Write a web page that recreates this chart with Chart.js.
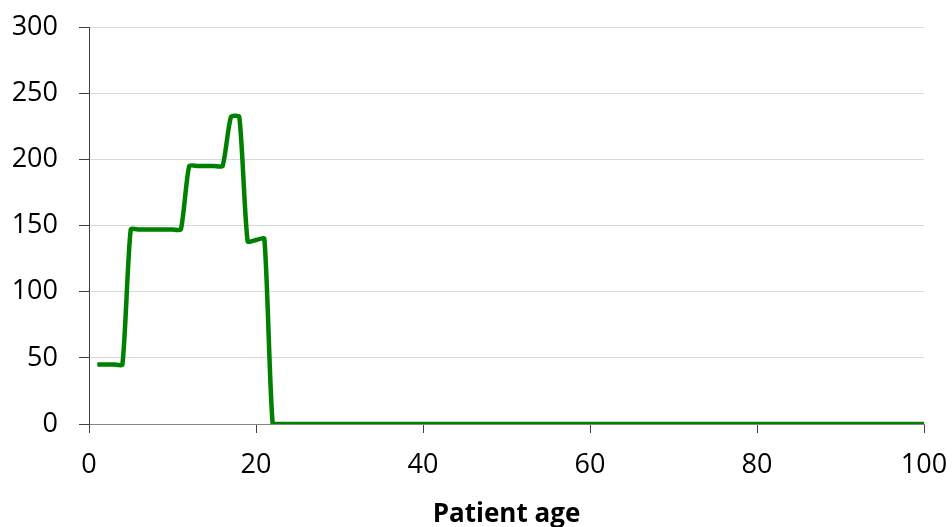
<!DOCTYPE html>
<html>
<head>
<meta charset="utf-8">
<script src="https://cdn.jsdelivr.net/npm/chart.js@4/dist/chart.umd.min.js"></script>
<style>
  html, body { margin: 0; padding: 0; background: #fff; }
  #chart { display: block; }
</style>
</head>
<body>
<canvas id="chart" width="952" height="527"></canvas>
<script>
// patient ages (x) and counts
const ages = [
  1, 2, 3, 4, 5, 6, 7, 8, 9, 10,
  11, 12, 13, 14, 15, 16, 17, 18, 19, 20,
  21, 22, 23, 24, 25, 26, 27, 28, 29, 30,
  31, 32, 33, 34, 35, 36, 37, 38, 39, 40,
  41, 42, 43, 44, 45, 46, 47, 48, 49, 50,
  51, 52, 53, 54, 55, 56, 57, 58, 59, 60,
  61, 62, 63, 64, 65, 66, 67, 68, 69, 70,
  71, 72, 73, 74, 75, 76, 77, 78, 79, 80,
  81, 82, 83, 84, 85, 86, 87, 88, 89, 90,
  91, 92, 93, 94, 95, 96, 97, 98, 99, 100
];
const counts = [
  45, 45, 45, 45, 147, 147, 147, 147, 147, 147,
  147, 195, 195, 195, 195, 195, 232, 232, 138, 139,
  140, 0, 0, 0, 0, 0, 0, 0, 0, 0,
  0, 0, 0, 0, 0, 0, 0, 0, 0, 0,
  0, 0, 0, 0, 0, 0, 0, 0, 0, 0,
  0, 0, 0, 0, 0, 0, 0, 0, 0, 0,
  0, 0, 0, 0, 0, 0, 0, 0, 0, 0,
  0, 0, 0, 0, 0, 0, 0, 0, 0, 0,
  0, 0, 0, 0, 0, 0, 0, 0, 0, 0,
  0, 0, 0, 0, 0, 0, 0, 0, 0, 0
];
const xTicks = [0, 20, 40, 60, 80, 100];
const yTicks = [0, 50, 100, 150, 200, 250, 300];
const xTitle = 'Patient age';

const points = ages.map((a, i) => ({ x: a, y: counts[i] }));
const tickFont = { family: "'Open Sans', sans-serif", size: 27 };

new Chart(document.getElementById('chart').getContext('2d'), {
  type: 'line',
  data: {
    datasets: [
      {
        label: 'Patients',
        data: points,
        borderColor: '#008000',
        borderWidth: 4.5,
        pointRadius: 0,
        fill: false,
        tension: 0.2,
      },
    ],
  },
  options: {
    responsive: false,
    animation: false,
    layout: { padding: { top: 27, right: 28, bottom: 0, left: 0 } },
    plugins: {
      legend: { display: false },
      tooltip: { enabled: false },
    },
    scales: {
      x: {
        type: 'linear',
        min: 0,
        max: 100,
        afterBuildTicks: (axis) => {
          axis.ticks = xTicks.map((v) => ({ value: v }));
        },
        afterFit: (axis) => {
          axis.height = 103;
          axis.paddingLeft = 0;
          axis.paddingRight = 0;
        },
        grid: {
          drawOnChartArea: false,
          drawTicks: true,
          tickLength: 9,
          tickColor: '#404040',
        },
        border: { color: '#868686', width: 1 },
        ticks: { color: '#000', font: tickFont, padding: 16, maxRotation: 0 },
        title: {
          display: true,
          text: xTitle,
          color: '#000',
          font: { family: "'Open Sans', sans-serif", size: 26, weight: 'bold' },
          padding: { top: 0, bottom: -3 },
        },
      },
      y: {
        min: 0,
        max: 300,
        afterBuildTicks: (axis) => {
          axis.ticks = yTicks.map((v) => ({ value: v }));
        },
        afterFit: (axis) => {
          axis.width = 89;
          axis.paddingTop = 0;
          axis.paddingBottom = 0;
        },
        grid: {
          color: (ctx) => (ctx.tick && ctx.tick.value === 0 ? '#868686' : '#d9d9d9'),
          lineWidth: 1,
          tickLength: 10,
          tickColor: '#404040',
        },
        border: { color: '#404040', width: 1 },
        ticks: { color: '#000', font: tickFont, padding: 21 },
      },
    },
  },
});
</script>
</body>
</html>
